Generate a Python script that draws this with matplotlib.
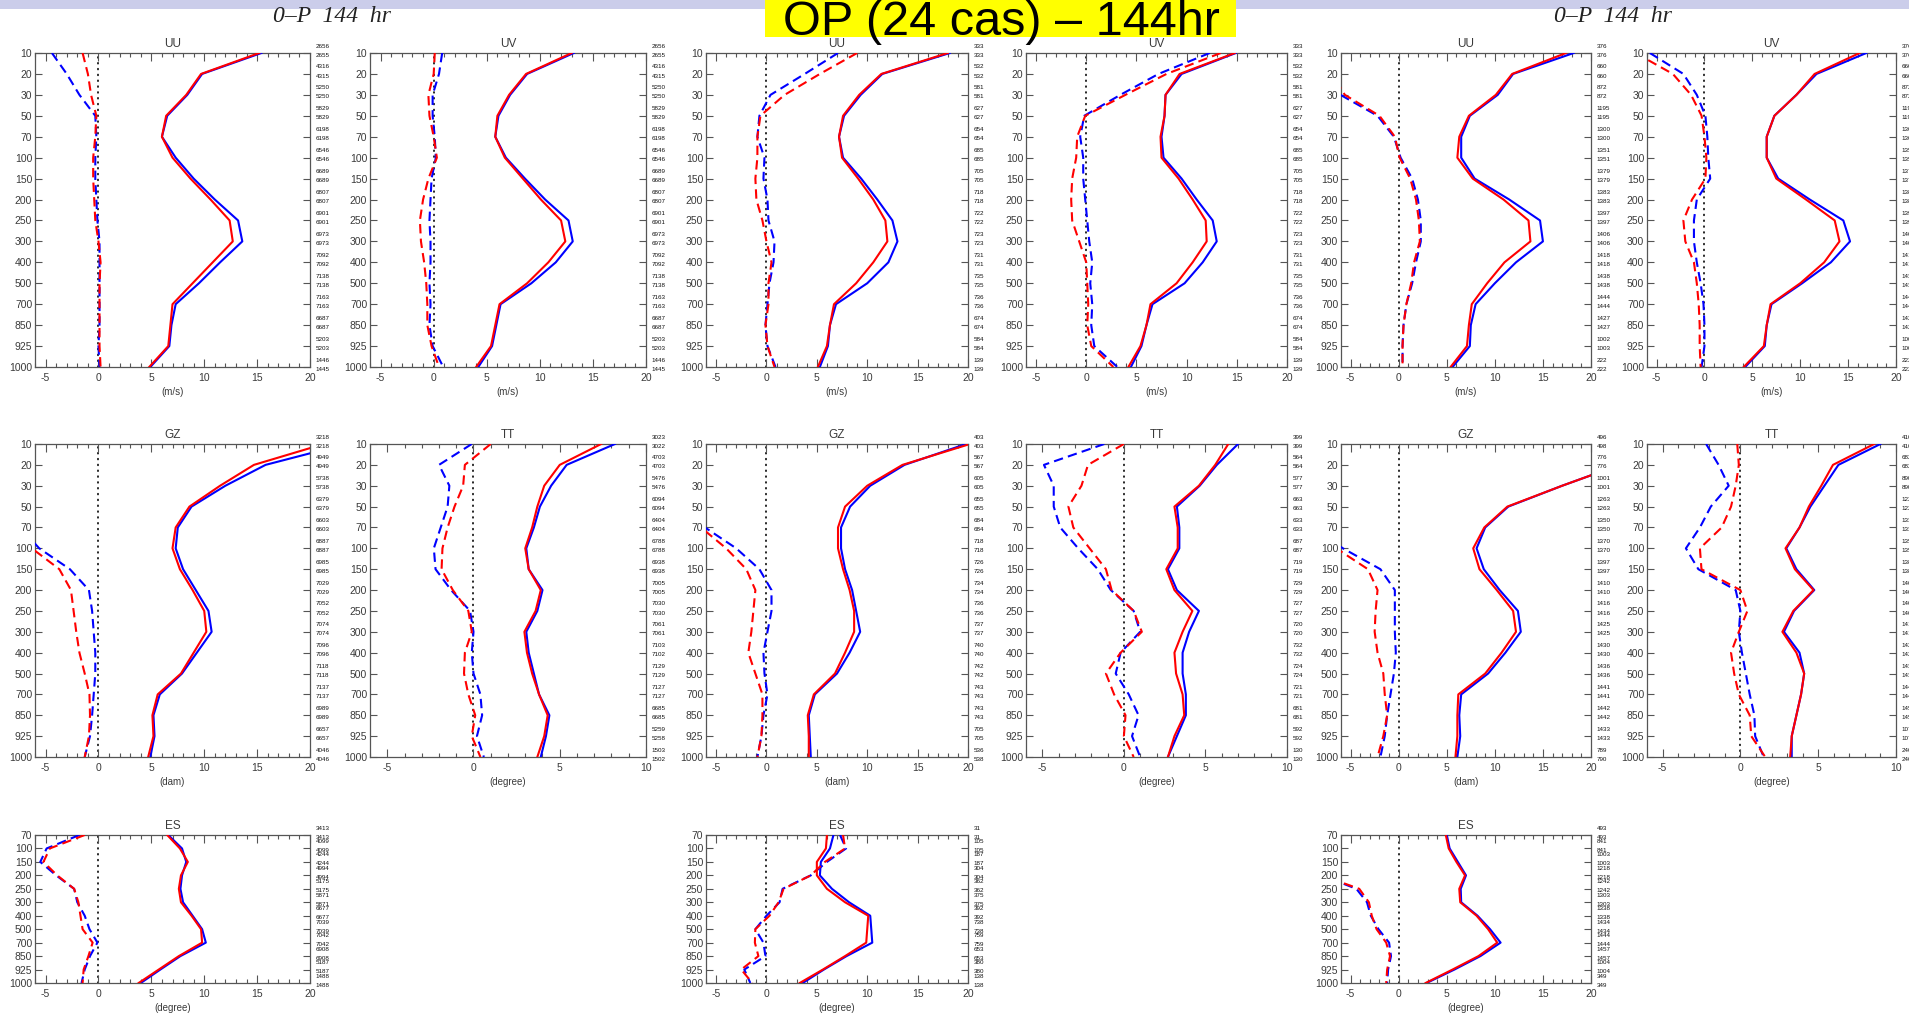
import matplotlib
matplotlib.use('Agg')
import matplotlib.pyplot as plt
from matplotlib.ticker import MultipleLocator
from matplotlib.patches import Rectangle

# pressure levels (hPa)
LEVELS = [10, 20, 30, 50, 70, 100, 150, 200, 250, 300, 400, 500, 700, 850, 925, 1000]
ES_LEVELS = [70, 100, 150, 200, 250, 300, 400, 500, 700, 850, 925, 1000]

# ---- left group (0-P 144 hr) ----
L_UU_BLUE = [15.4, 9.8, 8.4, 6.5, 6.0, 7.3, 9.0, 11.0, 13.2, 13.6, 11.5, 9.5, 7.3, 6.9, 6.7, 4.9]
L_UU_RED = [15.2, 9.7, 8.3, 6.4, 6.0, 7.0, 8.7, 10.6, 12.4, 12.7, 10.8, 8.9, 7.0, 6.8, 6.6, 4.8]
L_UU_BLUE_B = [-4.4, -3.0, -1.8, -0.3, -0.2, -0.3, -0.3, -0.2, -0.1, 0.1, 0.1, 0.1, 0.1, 0.1, 0.0, 0.1]
L_UU_RED_B = [-1.5, -1.0, -0.7, -0.2, -0.3, -0.5, -0.5, -0.4, -0.3, 0.0, 0.2, 0.1, 0.1, 0.1, 0.1, 0.2]

L_UV_BLUE = [13.2, 8.8, 7.2, 6.1, 5.8, 6.8, 8.6, 10.5, 12.7, 13.1, 11.5, 9.2, 6.3, 5.9, 5.5, 4.2]
L_UV_RED = [13.0, 8.7, 7.1, 6.0, 5.8, 6.7, 8.4, 10.1, 12.0, 12.4, 10.8, 8.8, 6.2, 5.8, 5.4, 4.0]
L_UV_BLUE_B = [0.8, 0.5, -0.1, -0.1, 0.1, 0.2, -0.2, -0.3, -0.4, -0.3, -0.3, -0.4, -0.3, -0.4, -0.1, 0.9]
L_UV_RED_B = [0.1, 0.0, -0.5, -0.4, 0.0, 0.3, -0.5, -1.0, -1.3, -1.2, -0.9, -0.7, -0.6, -0.6, -0.2, 0.5]

L_GZ_BLUE = [23.4, 15.8, 12.0, 8.8, 7.5, 7.3, 8.0, 9.2, 10.4, 10.7, 9.3, 7.9, 5.8, 5.2, 5.3, 4.9]
L_GZ_RED = [21.3, 14.7, 11.5, 8.6, 7.3, 7.0, 7.7, 8.9, 10.0, 10.2, 9.0, 7.8, 5.6, 5.1, 5.2, 4.7]
L_GZ_BLUE_B = [-24, -20, -16, -12, -7.4, -5.6, -2.7, -0.9, -0.6, -0.45, -0.3, -0.3, -0.45, -0.6, -0.8, -1.3]
L_GZ_RED_B = [-26, -22, -18, -13, -9.0, -6.3, -3.7, -2.6, -2.35, -2.1, -1.8, -1.3, -0.85, -0.8, -0.9, -1.3]

L_TT_BLUE = [8.2, 5.4, 4.5, 3.85, 3.5, 3.06, 3.2, 4.0, 3.7, 3.06, 3.2, 3.5, 3.8, 4.4, 4.2, 3.9]
L_TT_RED = [7.4, 5.0, 4.1, 3.7, 3.4, 3.0, 3.2, 3.9, 3.6, 2.95, 3.1, 3.4, 3.8, 4.3, 4.1, 3.7]
L_TT_BLUE_B = [-0.1, -2.0, -1.4, -1.5, -1.9, -2.3, -2.2, -1.3, -0.2, 0.0, -0.1, 0.0, 0.4, 0.5, 0.2, 0.6]
L_TT_RED_B = [1.0, -0.5, -0.6, -1.1, -1.5, -1.8, -1.85, -1.2, -0.3, -0.1, -0.5, -0.55, -0.3, 0.1, -0.1, 0.4]

L_ES_BLUE = [6.6, 7.9, 8.3, 7.9, 7.75, 8.0, 8.9, 9.8, 10.15, 7.75, 5.85, 4.0]
L_ES_RED = [6.5, 7.7, 8.45, 7.8, 7.6, 7.8, 8.8, 9.7, 9.8, 7.6, 5.7, 3.8]
L_ES_BLUE_B = [-1.8, -4.9, -5.5, -4.0, -2.3, -2.0, -1.3, -0.85, -0.1, -0.8, -1.3, -1.6]
L_ES_RED_B = [-1.3, -4.6, -5.2, -3.9, -2.3, -1.9, -1.7, -1.5, -0.55, -0.95, -1.4, -1.5]

L_WIND_N1 = [2656, 4316, 5250, 5829, 6198, 6546, 6689, 6807, 6901, 6973, 7092, 7138, 7163, 6687, 5203, 1446]
L_WIND_N2 = [2655, 4315, 5250, 5829, 6198, 6546, 6689, 6807, 6901, 6973, 7092, 7138, 7163, 6687, 5203, 1445]
L_GZ_N = [3218, 4949, 5738, 6379, 6603, 6887, 6985, 7029, 7052, 7074, 7096, 7118, 7137, 6989, 6657, 4046]
L_TT_N1 = [3023, 4703, 5476, 6094, 6404, 6788, 6938, 7005, 7030, 7061, 7103, 7129, 7127, 6685, 5259, 1503]
L_TT_N2 = [3022, 4703, 5476, 6094, 6404, 6788, 6938, 7005, 7030, 7061, 7102, 7129, 7127, 6685, 5258, 1502]
L_ES_N = [3413, 4099, 4244, 4994, 5175, 5871, 6677, 7039, 7042, 6908, 5187, 1488]

# ---- middle group (OP 24 cases) ----
M_UU_BLUE = [18.2, 11.5, 9.35, 7.7, 7.2, 7.6, 9.4, 11.0, 12.5, 13.0, 12.1, 10.0, 6.9, 6.3, 6.1, 5.3]
M_UU_RED = [18.0, 11.4, 9.2, 7.6, 7.2, 7.5, 9.1, 10.6, 11.8, 12.0, 10.6, 8.9, 6.7, 6.3, 6.0, 5.1]
M_UU_BLUE_B = [7.1, 3.8, 0.4, -0.7, -0.9, -0.2, -0.3, 0.1, 0.2, 0.8, 0.7, 0.3, 0.1, -0.1, 0.1, 0.9]
M_UU_RED_B = [9.0, 5.3, 1.8, -0.6, -0.9, -0.9, -1.1, -1.0, -0.4, 0.0, 0.5, 0.2, 0.2, -0.1, 0.1, 0.8]

M_UV_BLUE = [14.9, 9.5, 7.9, 7.8, 7.5, 7.7, 9.5, 11.0, 12.6, 13.0, 11.6, 9.8, 6.6, 6.0, 5.5, 4.45]
M_UV_RED = [14.8, 9.3, 7.9, 7.8, 7.4, 7.5, 9.2, 10.6, 11.9, 12.0, 10.6, 9.0, 6.4, 6.0, 5.4, 4.2]
M_UV_BLUE_B = [12.3, 7.2, 3.4, -0.2, -0.6, -0.3, -0.3, -0.1, 0.1, 0.3, 0.6, 0.4, 0.6, 0.5, 0.8, 3.1]
M_UV_RED_B = [13.4, 8.0, 3.9, -0.1, -0.9, -1.0, -1.4, -1.5, -1.4, -0.7, 0.0, 0.1, 0.2, 0.1, 0.5, 2.7]

M_GZ_BLUE = [19.8, 13.7, 10.3, 8.3, 7.4, 7.4, 7.8, 8.5, 8.9, 9.3, 8.25, 7.0, 4.8, 4.2, 4.3, 4.4]
M_GZ_RED = [20.2, 13.5, 10.0, 7.8, 7.1, 7.1, 7.6, 8.25, 8.7, 8.7, 7.8, 6.8, 4.7, 4.1, 4.2, 4.2]
M_GZ_BLUE_B = [-25, -20, -15, -10, -6.1, -3.0, -0.7, 0.5, 0.5, 0.1, -0.3, -0.2, 0.1, -0.3, -0.5, -0.9]
M_GZ_RED_B = [-26, -21, -16, -11, -6.5, -4.0, -2.0, -1.1, -1.3, -1.5, -1.8, -1.1, -0.4, -0.4, -0.5, -0.9]

M_TT_BLUE = [7.0, 5.7, 4.65, 3.25, 3.4, 3.4, 2.7, 3.25, 4.6, 4.0, 3.6, 3.6, 3.8, 3.8, 3.25, 2.7]
M_TT_RED = [6.4, 5.6, 4.6, 3.1, 3.3, 3.3, 2.6, 3.1, 4.2, 3.6, 3.1, 3.2, 3.6, 3.7, 3.1, 2.7]
M_TT_BLUE_B = [-1.2, -4.9, -4.3, -4.3, -3.9, -2.8, -1.6, -0.8, 0.6, 1.0, -0.2, -0.5, 0.3, 0.9, 0.5, 1.0]
M_TT_RED_B = [0.0, -2.2, -2.6, -3.4, -3.1, -2.1, -1.1, -0.75, 0.6, 1.1, -0.2, -1.1, -0.6, 0.1, 0.0, 0.6]

M_ES_BLUE = [6.65, 6.3, 5.4, 5.3, 6.5, 8.2, 10.3, 10.4, 10.5, 7.95, 5.7, 3.6]
M_ES_RED = [6.0, 5.9, 5.0, 5.0, 6.0, 7.8, 10.1, 10.0, 9.9, 7.8, 5.6, 3.3]
M_ES_BLUE_B = [7.3, 7.9, 6.0, 4.4, 1.6, 1.3, 0.0, -1.1, -0.3, -0.1, -2.2, -1.6]
M_ES_RED_B = [7.6, 7.8, 5.8, 4.4, 1.7, 1.2, 0.3, -1.1, -1.15, -0.8, -2.5, -1.4]

M_WIND_N = [333, 532, 581, 627, 654, 685, 705, 718, 722, 723, 731, 735, 736, 674, 584, 139]
M_GZ_N1 = [403, 567, 605, 655, 684, 718, 726, 734, 736, 737, 740, 742, 743, 743, 705, 536]
M_GZ_N2 = [403, 567, 605, 655, 684, 718, 726, 734, 736, 737, 740, 742, 743, 743, 705, 538]
M_TT_N = [399, 564, 577, 663, 633, 687, 719, 729, 727, 720, 732, 724, 721, 681, 592, 130]
M_ES_N = [31, 105, 187, 304, 362, 375, 392, 738, 759, 653, 380, 138]

# ---- right group (0-P 144 hr) ----
R_UU_BLUE = [18.2, 11.9, 10.3, 7.4, 6.5, 6.5, 7.9, 11.5, 14.7, 15.0, 12.2, 10.0, 8.0, 7.5, 7.4, 5.6]
R_UU_RED = [17.4, 11.8, 10.1, 7.3, 6.3, 6.1, 7.7, 10.9, 13.5, 13.7, 11.0, 9.2, 7.6, 7.3, 7.1, 5.4]
R_UU_BLUE_B = [-14, -10, -6.05, -2.2, -0.5, 0.2, 1.4, 2.0, 2.3, 2.3, 1.8, 1.4, 0.8, 0.5, 0.4, 0.4]
R_UU_RED_B = [-10, -7.0, -5.6, -2.0, -0.4, 0.1, 1.2, 1.8, 2.1, 2.2, 1.6, 1.3, 0.8, 0.5, 0.4, 0.4]

R_UV_BLUE = [16.9, 11.7, 9.6, 7.3, 6.5, 6.5, 7.7, 11.0, 14.5, 15.2, 13.2, 10.2, 7.0, 6.5, 6.3, 4.25]
R_UV_RED = [16.2, 11.5, 9.6, 7.3, 6.5, 6.5, 7.5, 10.6, 13.6, 14.1, 12.5, 10.0, 6.9, 6.5, 6.2, 4.1]
R_UV_BLUE_B = [-5.7, -2.2, -0.8, 0.1, 0.3, 0.4, 0.6, -0.8, -1.1, -1.1, -0.8, -0.4, -0.1, 0.0, 0.0, -0.3]
R_UV_RED_B = [-7.2, -3.3, -1.4, -0.3, 0.0, 0.2, 0.1, -1.3, -2.2, -2.0, -1.1, -0.8, -0.6, -0.5, -0.5, -0.4]

R_GZ_BLUE = [30, 23, 17.0, 11.4, 9.0, 8.1, 8.85, 10.5, 12.4, 12.7, 11.1, 9.3, 6.5, 6.3, 6.4, 6.1]
R_GZ_RED = [30, 23, 17.0, 11.3, 8.9, 7.75, 8.4, 10.2, 11.9, 12.2, 10.7, 9.0, 6.2, 6.1, 6.1, 5.9]
R_GZ_BLUE_B = [-30, -25, -20, -15, -9.0, -5.8, -1.9, -0.4, -0.4, -0.4, -0.3, -0.5, -0.85, -1.2, -1.45, -1.9]
R_GZ_RED_B = [-30, -25, -20, -15, -12, -6.5, -3.2, -2.2, -2.4, -2.5, -2.2, -1.6, -1.45, -1.2, -1.6, -2.2]

R_TT_BLUE = [9.0, 6.3, 5.4, 4.5, 3.8, 2.95, 3.6, 4.75, 3.45, 2.8, 3.8, 4.1, 3.9, 3.6, 3.3, 3.3]
R_TT_RED = [8.6, 5.95, 5.2, 4.4, 3.8, 2.9, 3.5, 4.7, 3.4, 2.7, 3.6, 4.1, 3.9, 3.6, 3.3, 3.2]
R_TT_BLUE_B = [-2.2, -1.4, -0.75, -1.9, -2.6, -3.5, -2.7, -0.3, 0.0, -0.1, 0.1, 0.35, 0.6, 0.9, 0.95, 1.5]
R_TT_RED_B = [-0.2, -0.1, -0.3, -0.6, -1.2, -2.6, -2.5, 0.0, 0.45, -0.1, -0.6, -0.4, -0.1, 0.6, 0.7, 1.6]

R_ES_BLUE = [5.0, 5.3, 6.15, 7.0, 6.45, 6.5, 8.2, 9.5, 10.6, 8.5, 5.8, 2.9]
R_ES_RED = [4.9, 5.2, 6.0, 6.9, 6.3, 6.4, 8.1, 9.3, 10.25, 8.3, 5.6, 2.8]
R_ES_BLUE_B = [-20, -16, -12, -8.0, -4.4, -3.3, -2.9, -2.1, -1.0, -0.8, -1.1, -1.2]
R_ES_RED_B = [-20, -16, -12, -8.0, -4.1, -3.1, -2.8, -2.3, -1.3, -0.9, -1.2, -1.3]

R_WIND_N1 = [376, 660, 872, 1195, 1300, 1351, 1379, 1383, 1397, 1406, 1418, 1438, 1444, 1427, 1002, 222]
R_WIND_N2 = [376, 660, 872, 1195, 1300, 1351, 1379, 1383, 1397, 1406, 1418, 1438, 1444, 1427, 1003, 222]
R_GZ_N1 = [496, 776, 1001, 1263, 1350, 1370, 1397, 1410, 1416, 1425, 1430, 1436, 1441, 1442, 1433, 789]
R_GZ_N2 = [498, 776, 1001, 1263, 1350, 1370, 1397, 1410, 1416, 1425, 1430, 1436, 1441, 1442, 1433, 790]
R_TT_N = [410, 682, 890, 1228, 1330, 1358, 1383, 1401, 1409, 1412, 1427, 1434, 1440, 1450, 1070, 240]
R_ES_N = [493, 841, 1003, 1218, 1242, 1303, 1338, 1434, 1444, 1457, 1004, 349]

W, H = 1909, 1016
AX_COLOR = '#555555'
TXT_COLOR = '#3a3a3a'

plt.rcParams['font.family'] = ['Liberation Sans', 'DejaVu Sans']
plt.rcParams['axes.unicode_minus'] = False


def add_ax(fig, x0, x1, ytop, ybot):
    return fig.add_axes([x0 / W, 1 - ybot / H, (x1 - x0) / W, (ybot - ytop) / H])


def draw_panel(ax, title, unit, levels, xmax, blue, red, blue_b, red_b, n1, n2):
    idx = list(range(len(levels)))
    ax.axvline(0, color='k', lw=1.2, ls=(0, (0.5, 3.0)), dash_capstyle='round', zorder=1)
    ax.plot(blue, idx, color='#0000ff', lw=1.5, zorder=3)
    ax.plot(red, idx, color='#ff0000', lw=1.5, zorder=4)
    ax.plot(blue_b, idx, color='#0000ff', lw=1.5, dashes=(4.5, 2.5), zorder=3)
    ax.plot(red_b, idx, color='#ff0000', lw=1.5, dashes=(4.5, 2.5), zorder=4)

    ax.set_xlim(-6, xmax)
    ax.set_ylim(len(levels) - 1, 0)
    ax.set_yticks(idx)
    ax.set_yticklabels([str(v) for v in levels])
    ax.xaxis.set_major_locator(MultipleLocator(5))
    ax.xaxis.set_minor_locator(MultipleLocator(1))
    ax.tick_params(which='both', direction='in', top=True, right=True,
                   colors=AX_COLOR, labelcolor=TXT_COLOR, labelsize=7.5, width=0.8)
    ax.tick_params(axis='x', which='major', length=6, pad=4)
    ax.tick_params(axis='x', which='minor', length=3)
    ax.tick_params(axis='y', which='major', length=5, pad=2)
    for s in ax.spines.values():
        s.set_color(AX_COLOR)
        s.set_linewidth(0.9)
    ax.set_title(title, fontsize=8.5, color=TXT_COLOR, pad=4)
    ax.set_xlabel(unit, fontsize=7, color=TXT_COLOR, labelpad=3)

    # sample counts on the right
    for i in idx:
        ax.annotate(str(n1[i]), xy=(1, i), xycoords=('axes fraction', 'data'),
                    xytext=(4, 5), textcoords='offset points',
                    fontsize=4.5, color='#111111', va='center', ha='left', annotation_clip=False)
        ax.annotate(str(n2[i]), xy=(1, i), xycoords=('axes fraction', 'data'),
                    xytext=(4, -1.5), textcoords='offset points',
                    fontsize=4.5, color='#111111', va='center', ha='left', annotation_clip=False)


def main():
    fig = plt.figure(figsize=(W / 100, H / 100), dpi=100)

    # slide header
    fig.patches.append(Rectangle((0, 1 - 9 / H), 1, 9 / H, transform=fig.transFigure,
                                 facecolor='#cbcdea', edgecolor='none', zorder=0))
    fig.patches.append(Rectangle((765 / W, 1 - 37 / H), 471 / W, 40 / H, transform=fig.transFigure,
                                 facecolor='#ffff00', edgecolor='none', zorder=1))
    fig.text(1001 / W, 1 - 35 / H, 'OP (24 cas) \u2013 144hr', fontsize=35,
             ha='center', va='baseline', color='black', zorder=2)
    for xc in (332, 1613):
        fig.text(xc / W, 1 - 17 / H, '0\u2013P  144  hr', fontsize=17, family='Liberation Serif',
                 style='italic', ha='center', va='center', color='#222222')

    cols = {
        'L': [(35, 310), (370, 646)],
        'M': [(706, 968), (1026, 1287)],
        'R': [(1341, 1591), (1647, 1896)],
    }
    rows = [(53, 367), (444, 757), (835, 983)]

    panels = [
        ('L', 0, 0, 'UU', '(m/s)', LEVELS, 20, L_UU_BLUE, L_UU_RED, L_UU_BLUE_B, L_UU_RED_B, L_WIND_N1, L_WIND_N2),
        ('L', 0, 1, 'UV', '(m/s)', LEVELS, 20, L_UV_BLUE, L_UV_RED, L_UV_BLUE_B, L_UV_RED_B, L_WIND_N1, L_WIND_N2),
        ('L', 1, 0, 'GZ', '(dam)', LEVELS, 20, L_GZ_BLUE, L_GZ_RED, L_GZ_BLUE_B, L_GZ_RED_B, L_GZ_N, L_GZ_N),
        ('L', 1, 1, 'TT', '(degree)', LEVELS, 10, L_TT_BLUE, L_TT_RED, L_TT_BLUE_B, L_TT_RED_B, L_TT_N1, L_TT_N2),
        ('L', 2, 0, 'ES', '(degree)', ES_LEVELS, 20, L_ES_BLUE, L_ES_RED, L_ES_BLUE_B, L_ES_RED_B, L_ES_N, L_ES_N),
        ('M', 0, 0, 'UU', '(m/s)', LEVELS, 20, M_UU_BLUE, M_UU_RED, M_UU_BLUE_B, M_UU_RED_B, M_WIND_N, M_WIND_N),
        ('M', 0, 1, 'UV', '(m/s)', LEVELS, 20, M_UV_BLUE, M_UV_RED, M_UV_BLUE_B, M_UV_RED_B, M_WIND_N, M_WIND_N),
        ('M', 1, 0, 'GZ', '(dam)', LEVELS, 20, M_GZ_BLUE, M_GZ_RED, M_GZ_BLUE_B, M_GZ_RED_B, M_GZ_N1, M_GZ_N2),
        ('M', 1, 1, 'TT', '(degree)', LEVELS, 10, M_TT_BLUE, M_TT_RED, M_TT_BLUE_B, M_TT_RED_B, M_TT_N, M_TT_N),
        ('M', 2, 0, 'ES', '(degree)', ES_LEVELS, 20, M_ES_BLUE, M_ES_RED, M_ES_BLUE_B, M_ES_RED_B, M_ES_N, M_ES_N),
        ('R', 0, 0, 'UU', '(m/s)', LEVELS, 20, R_UU_BLUE, R_UU_RED, R_UU_BLUE_B, R_UU_RED_B, R_WIND_N1, R_WIND_N2),
        ('R', 0, 1, 'UV', '(m/s)', LEVELS, 20, R_UV_BLUE, R_UV_RED, R_UV_BLUE_B, R_UV_RED_B, R_WIND_N1, R_WIND_N2),
        ('R', 1, 0, 'GZ', '(dam)', LEVELS, 20, R_GZ_BLUE, R_GZ_RED, R_GZ_BLUE_B, R_GZ_RED_B, R_GZ_N1, R_GZ_N2),
        ('R', 1, 1, 'TT', '(degree)', LEVELS, 10, R_TT_BLUE, R_TT_RED, R_TT_BLUE_B, R_TT_RED_B, R_TT_N, R_TT_N),
        ('R', 2, 0, 'ES', '(degree)', ES_LEVELS, 20, R_ES_BLUE, R_ES_RED, R_ES_BLUE_B, R_ES_RED_B, R_ES_N, R_ES_N),
    ]

    for grp, r, c, title, unit, levels, xmax, b, rd, bb, rb, n1, n2 in panels:
        x0, x1 = cols[grp][c]
        ytop, ybot = rows[r]
        ax = add_ax(fig, x0, x1, ytop, ybot)
        draw_panel(ax, title, unit, levels, xmax, b, rd, bb, rb, n1, n2)

    fig.savefig('out.png', dpi=100, facecolor='white')
    plt.close(fig)


if __name__ == '__main__':
    main()
